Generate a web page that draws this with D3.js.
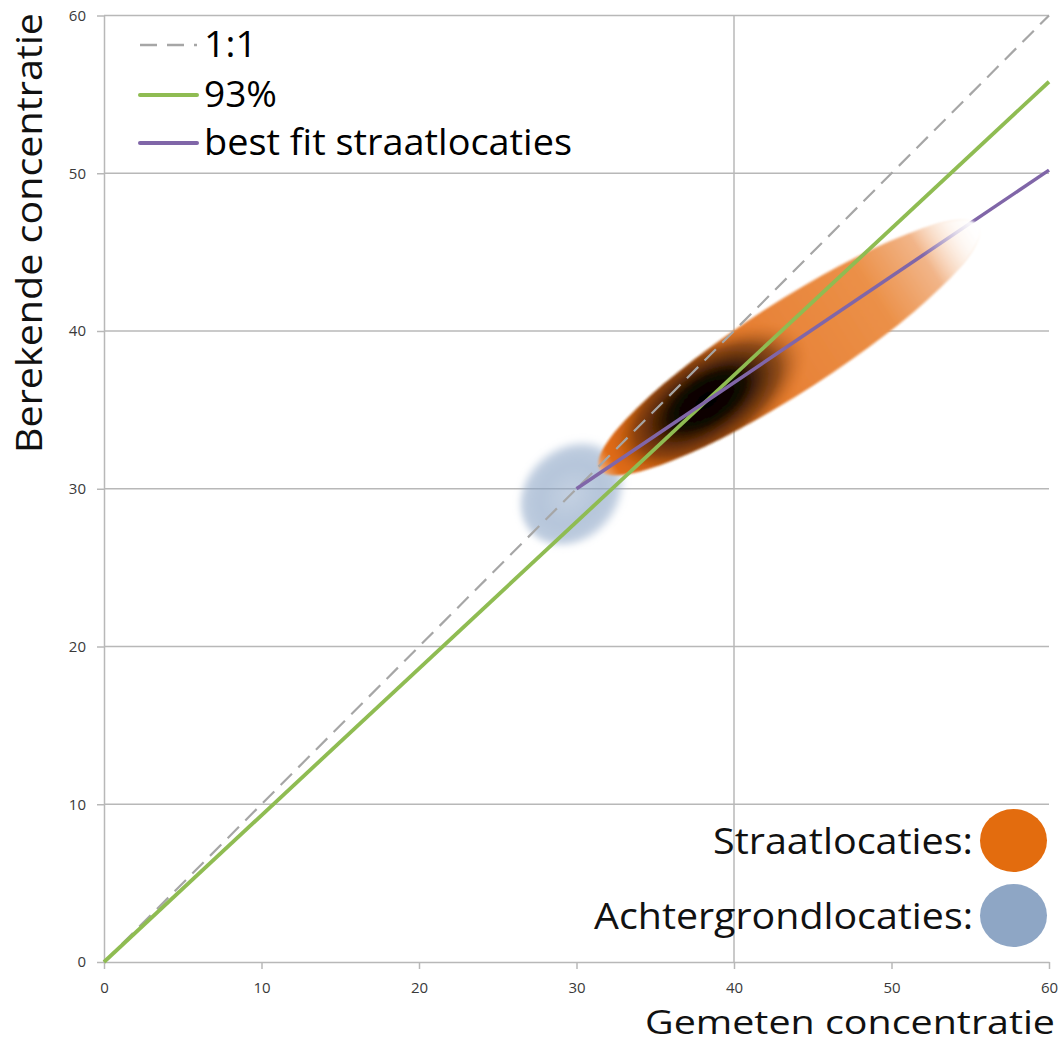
<!DOCTYPE html>
<html><head><meta charset="utf-8">
<script src="https://cdn.jsdelivr.net/npm/d3@7/dist/d3.min.js"></script>
<style>body{margin:0;background:#fff}svg{display:block}</style>
</head><body>
<svg id="c" width="1064" height="1043"></svg>
<script>
// ---- data ----
const xTicks = [0,10,20,30,40,50,60];
const yTicks = [0,10,20,30,40,50,60];
const xGrid = [40];
const yGrid = [10,20,30,40,50,60];
const lineOneToOne = [[0,0],[60,60]];
const line93 = [[0,0],[60,55.8]];
const lineBestFit = [[30,30],[60,50.2]];
const legendLabels = ["1:1","93%","best fit straatlocaties"];
const groupLabels = ["Straatlocaties:","Achtergrondlocaties:"];
// clouds: centre (data units), semi axes (data units), angle (deg)
const streetCloud = {cx:43.5, cy:38.95, a:14.3, b:2.85, angle:32.8, core:-6.2};
const backCloud = {cx:29.9, cy:29.9, a:3.9, b:3.1, angle:45};

const svg = d3.select("#c");
const x = d3.scaleLinear().domain([0,60]).range([104,1049]);
const y = d3.scaleLinear().domain([0,60]).range([962,15.5]);
const defs = svg.append("defs");
const font = "'Open Sans', 'Liberation Sans', sans-serif";
const gridCol = "#b8b8b8";

// grid
svg.append("g").selectAll("line").data(yGrid).join("line")
  .attr("x1",x(0)).attr("x2",x(60)).attr("y1",d=>y(d)).attr("y2",d=>y(d))
  .attr("stroke",gridCol).attr("stroke-width",1.5);
svg.append("g").selectAll("line").data(xGrid).join("line")
  .attr("x1",d=>x(d)).attr("x2",d=>x(d)).attr("y1",y(0)).attr("y2",y(60))
  .attr("stroke",gridCol).attr("stroke-width",1.5);

// axes
const xAxis = svg.append("g").attr("transform",`translate(0,${y(0)})`)
  .call(d3.axisBottom(x).tickValues(xTicks).tickSize(7).tickPadding(13).tickSizeOuter(0));
const yAxis = svg.append("g").attr("transform",`translate(${x(0)},0)`)
  .call(d3.axisLeft(y).tickValues(yTicks).tickSize(7).tickPadding(11).tickSizeOuter(0));
[xAxis,yAxis].forEach(g=>{
  g.select(".domain").attr("stroke",gridCol).attr("stroke-width",1.5);
  g.selectAll(".tick line").attr("stroke",gridCol).attr("stroke-width",1.5);
  g.selectAll(".tick text").attr("fill","#3a3a3a").attr("font-size",15).attr("font-family",font);
});

// ---- clouds ----
function cloudTransform(c){
  return `translate(${x(c.cx)},${y(c.cy)}) rotate(${-c.angle})`;
}
const lg = defs.append("linearGradient").attr("id","streetGrad")
  .attr("x1","0%").attr("x2","100%").attr("y1","0%").attr("y2","0%");
[[0,"#f0b080"],[0.035,"#e06a12"],[0.3,"#e2711c"],[0.5,"#e8843a"],[0.72,"#eb9048"],[0.86,"#f2b589"],[0.97,"#fcebdd"],[1,"#ffffff"]]
  .forEach(([o,c])=>lg.append("stop").attr("offset",o).attr("stop-color",c));
const rg = defs.append("radialGradient").attr("id","coreGrad");
[[0,"#000",1],[0.35,"#080300",0.95],[0.7,"#3a1800",0.5],[1,"#e2711c",0]]
  .forEach(([o,c,a])=>rg.append("stop").attr("offset",o).attr("stop-color",c).attr("stop-opacity",a));
const tip = defs.append("linearGradient").attr("id","tipGrad")
  .attr("x1","0%").attr("x2","100%").attr("y1","0%").attr("y2","0%");
[[0,0],[0.86,0],[0.95,0.75],[1,1]].forEach(([o,a])=>tip.append("stop").attr("offset",o).attr("stop-color","#fff").attr("stop-opacity",a));

const bg = defs.append("radialGradient").attr("id","backGrad").attr("cx","45%").attr("cy","50%");
[[0,0.5],[0.55,0.62],[0.82,0.55],[1,0]].forEach(([o,a])=>bg.append("stop").attr("offset",o).attr("stop-color","#88a2c4").attr("stop-opacity",a));
defs.append("filter").attr("id","blurB").attr("x","-30%").attr("y","-30%").attr("width","160%").attr("height","160%")
  .append("feGaussianBlur").attr("stdDeviation",3);
defs.append("filter").attr("id","blurS").attr("x","-10%").attr("y","-50%").attr("width","120%").attr("height","200%")
  .append("feGaussianBlur").attr("stdDeviation",1.0);

const sx = d=> x(d)-x(0), sy = d=> y(0)-y(d);
svg.append("ellipse").attr("transform",cloudTransform(backCloud))
  .attr("rx",sx(backCloud.a)).attr("ry",sy(backCloud.b))
  .attr("fill","url(#backGrad)").attr("filter","url(#blurB)");

defs.append("clipPath").attr("id","streetClip").append("ellipse")
  .attr("rx",sx(streetCloud.a)).attr("ry",sy(streetCloud.b));
const sg = svg.append("g").attr("transform",cloudTransform(streetCloud));
const sgi = sg.append("g").attr("filter","url(#blurS)");
sgi.append("ellipse").attr("rx",sx(streetCloud.a)).attr("ry",sy(streetCloud.b)).attr("fill","url(#streetGrad)");
sgi.append("g").attr("clip-path","url(#streetClip)").append("ellipse")
  .attr("cx",sx(streetCloud.core)).attr("rx",sx(7.4)).attr("ry",sy(3.6)).attr("fill","url(#coreGrad)");

// ---- lines ----
const line = d3.line().x(d=>x(d[0])).y(d=>y(d[1]));
svg.append("path").attr("d",line(lineOneToOne)).attr("fill","none")
  .attr("stroke","#a6a6a6").attr("stroke-width",2.2).attr("stroke-dasharray","16,9");
svg.append("path").attr("d",line(line93)).attr("fill","none")
  .attr("stroke","#8fbc52").attr("stroke-width",3.8);
svg.append("path").attr("d",line(lineBestFit)).attr("fill","none")
  .attr("stroke","#8066a8").attr("stroke-width",3.5);

svg.append("g").attr("transform",cloudTransform(streetCloud)).attr("filter","url(#blurS)")
  .append("ellipse").attr("rx",sx(streetCloud.a)).attr("ry",sy(streetCloud.b)).attr("fill","url(#tipGrad)");

// ---- legend top-left ----
const legStyles = [
  {stroke:"#a6a6a6", dash:"17,10"},
  {stroke:"#8fbc52", dash:null},
  {stroke:"#8066a8", dash:null}
];
const legY = [45, 95, 143];
const legW = [53, 73, 368];
const leg = svg.append("g").selectAll("g").data(legendLabels).join("g")
  .attr("transform",(d,i)=>`translate(140,${legY[i]})`);
leg.append("line").attr("x1",0).attr("x2",57).attr("y1",0).attr("y2",0)
  .attr("stroke",(d,i)=>legStyles[i].stroke).attr("stroke-width",(d,i)=>i===0?2.5:4)
  .attr("stroke-dasharray",(d,i)=>legStyles[i].dash).attr("stroke-linecap",(d,i)=>i===0?"butt":"round");
leg.append("text").attr("x",64).attr("y",12).text(d=>d)
  .attr("font-family",font).attr("font-size",37).attr("fill","#000")
  .attr("textLength",(d,i)=>legW[i]).attr("lengthAdjust","spacingAndGlyphs");

// ---- legend bottom-right ----
const grpCols = ["#e36c0e","#8ea6c5"];
const grpY = [840.5, 915.5];
const grpW = [260, 379];
const grp = svg.append("g").selectAll("g").data(groupLabels).join("g")
  .attr("transform",(d,i)=>`translate(0,${grpY[i]})`);
grp.append("ellipse").attr("cx",1013.5).attr("rx",33.5).attr("ry",31.5).attr("fill",(d,i)=>grpCols[i]);
grp.append("text").attr("x",973).attr("y",13).attr("text-anchor","end").text(d=>d)
  .attr("font-family",font).attr("font-size",37).attr("fill","#111")
  .attr("textLength",(d,i)=>grpW[i]).attr("lengthAdjust","spacingAndGlyphs");

// ---- axis titles ----
svg.append("text").attr("x",1055).attr("y",1033.5).attr("text-anchor","end")
  .text("Gemeten concentratie").attr("font-family",font).attr("font-size",33).attr("fill","#111")
  .attr("textLength",410).attr("lengthAdjust","spacingAndGlyphs");
svg.append("text").attr("transform","translate(42,13) rotate(-90)").attr("text-anchor","end")
  .text("Berekende concentratie").attr("font-family",font).attr("font-size",37).attr("fill","#111")
  .attr("textLength",440).attr("lengthAdjust","spacingAndGlyphs");
</script>
</body></html>
